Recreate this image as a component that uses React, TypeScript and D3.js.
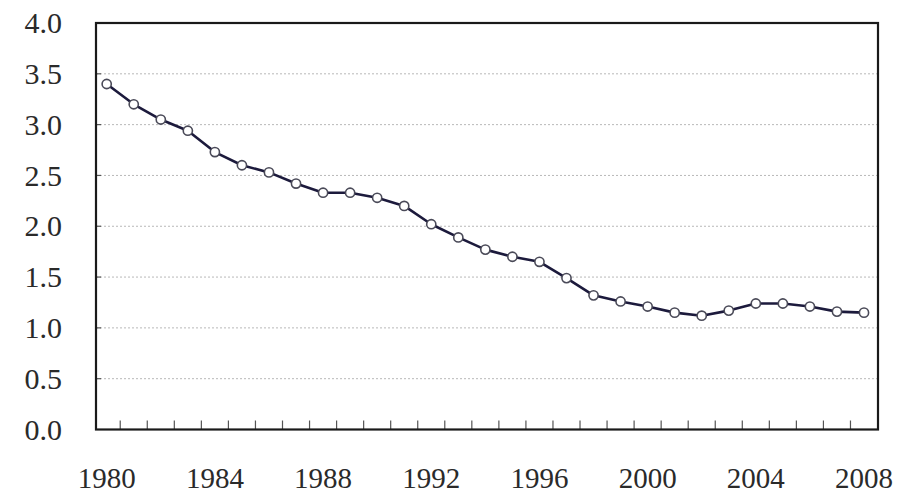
import React from "react";
import * as d3 from "d3";

const years: number[] = [
  1980, 1981, 1982, 1983, 1984, 1985, 1986, 1987, 1988, 1989,
  1990, 1991, 1992, 1993, 1994, 1995, 1996, 1997, 1998, 1999,
  2000, 2001, 2002, 2003, 2004, 2005, 2006, 2007, 2008,
];
const values: number[] = [
  3.4, 3.2, 3.05, 2.94, 2.73, 2.6, 2.53, 2.42, 2.33, 2.33,
  2.28, 2.2, 2.02, 1.89, 1.77, 1.7, 1.65, 1.49, 1.32, 1.26,
  1.21, 1.15, 1.12, 1.17, 1.24, 1.24, 1.21, 1.16, 1.15,
];
const yTicks: number[] = [0, 0.5, 1.0, 1.5, 2.0, 2.5, 3.0, 3.5, 4.0];
const xLabelYears: number[] = [1980, 1984, 1988, 1992, 1996, 2000, 2004, 2008];

const W = 900;
const H = 493;
const frame = { left: 96, right: 878, top: 23, bottom: 429.5 };

export default function App() {
  const x = d3.scaleLinear().domain([1980, 2008]).range([106.7, 864]);
  const y = d3.scaleLinear().domain([0, 4]).range([frame.bottom, frame.top]);
  const data = years.map((yr, i) => ({ yr, v: values[i] }));
  const line = d3
    .line<{ yr: number; v: number }>()
    .x((d) => x(d.yr))
    .y((d) => y(d.v));
  const minorTicks = years.slice(0, -1).map((yr) => yr + 0.5);
  const font = "'Liberation Serif', 'Times New Roman', serif";

  return (
    <svg
      width={W}
      height={H}
      viewBox={`0 0 ${W} ${H}`}
      style={{ position: "absolute", left: 0, top: 0, display: "block", background: "#fff" }}
    >
      {/* gridlines */}
      {yTicks
        .filter((t) => t > 0 && t < 4)
        .map((t) => (
          <g key={"g" + t}>
            <line
              x1={frame.left}
              x2={frame.right}
              y1={y(t)}
              y2={y(t)}
              stroke="#b8b8b8"
              strokeWidth={1}
              strokeDasharray="2,2"
            />
            <line
              x1={frame.left}
              x2={frame.left + 5}
              y1={y(t)}
              y2={y(t)}
              stroke="#555"
              strokeWidth={1.2}
            />
          </g>
        ))}
      {/* bottom minor ticks */}
      {minorTicks.map((t) => (
        <line
          key={"t" + t}
          x1={x(t)}
          x2={x(t)}
          y1={frame.bottom}
          y2={frame.bottom - 9}
          stroke="#555"
          strokeWidth={1.2}
        />
      ))}
      {/* frame */}
      <rect
        x={frame.left}
        y={frame.top}
        width={frame.right - frame.left}
        height={frame.bottom - frame.top}
        fill="none"
        stroke="#1a1a1a"
        strokeWidth={2.2}
      />
      {/* data line */}
      <path d={line(data) || ""} fill="none" stroke="#1c1a3c" strokeWidth={2.6} strokeLinejoin="round" />
      {data.map((d) => (
        <circle
          key={"c" + d.yr}
          cx={x(d.yr)}
          cy={y(d.v)}
          r={4.6}
          fill="#fff"
          stroke="#4a4a58"
          strokeWidth={1.6}
        />
      ))}
      {/* y labels */}
      {yTicks.map((t) => (
        <text
          key={"yl" + t}
          x={62}
          y={y(t)}
          dy="0.34em"
          textAnchor="end"
          fontFamily={font}
          fontSize={30}
          fill="#2a2a2a"
        >
          {t.toFixed(1)}
        </text>
      ))}
      {/* x labels */}
      {xLabelYears.map((yr) => (
        <text
          key={"xl" + yr}
          x={x(yr)}
          y={488}
          textAnchor="middle"
          fontFamily={font}
          fontSize={29}
          fill="#2a2a2a"
        >
          {yr}
        </text>
      ))}
    </svg>
  );
}
